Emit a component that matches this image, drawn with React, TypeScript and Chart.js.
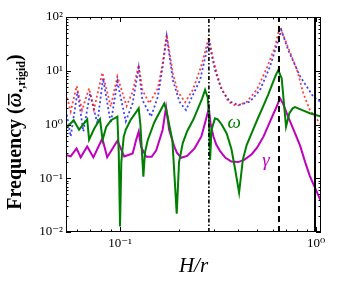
import React, { useEffect, useRef } from 'react';
import { Chart, registerables } from 'chart.js';
Chart.register(...registerables);

// ---- axis ranges & ticks ----
const X_MIN = 0.053;
const X_MAX = 1.06;
const Y_MIN = 0.01;
const Y_MAX = 100;
const xTickValues = [0.1, 1];
const xTickLabels = ['10⁻¹', '10⁰'];
const yTickValues = [0.01, 0.1, 1, 10, 100];
const yTickLabels = ['10⁻²', '10⁻¹', '10⁰', '10¹', '10²'];

// ---- series: omega (green, solid) ----
const omegaH = [0.053, 0.058, 0.0618, 0.068, 0.0695, 0.074, 0.079, 0.0815, 0.085, 0.09, 0.0969, 0.0985, 0.1, 0.1015, 0.1044, 0.107, 0.113, 0.1245, 0.127, 0.1315, 0.134, 0.1384, 0.1496, 0.168, 0.172, 0.185, 0.1946, 0.2, 0.209, 0.22, 0.237, 0.25, 0.262, 0.2716, 0.28, 0.284, 0.288, 0.293, 0.305, 0.315, 0.33, 0.35, 0.37, 0.385, 0.405, 0.423, 0.443, 0.47, 0.5, 0.538, 0.57, 0.6, 0.625, 0.642, 0.668, 0.703, 0.731, 0.76, 0.781, 0.85, 0.93, 1.06];
const omegaF = [0.85, 1.2, 0.8, 1.25, 0.52, 0.85, 1.25, 0.52, 0.9, 1.2, 1.4, 0.3, 0.0126, 0.2, 0.59, 0.8, 1.2, 2.0, 1.0, 0.107, 0.3, 0.51, 1.1, 2.45, 1.9, 0.5, 0.022, 0.2, 0.45, 0.75, 1.25, 2.0, 3.0, 4.4, 3.2, 1.5, 0.22, 0.8, 1.3, 1.25, 1.0, 0.68, 0.35, 0.16, 0.054, 0.22, 0.42, 0.7, 1.2, 2.2, 3.6, 5.8, 8.5, 10.3, 7.2, 0.91, 1.62, 2.0, 2.1, 1.85, 1.62, 1.4];

// ---- series: gamma (magenta, solid) ----
const gammaH = [0.053, 0.056, 0.06, 0.063, 0.068, 0.0731, 0.0812, 0.086, 0.097, 0.105, 0.116, 0.1207, 0.1245, 0.128, 0.136, 0.145, 0.153, 0.165, 0.1717, 0.178, 0.189, 0.195, 0.205, 0.22, 0.24, 0.26, 0.272, 0.284, 0.29, 0.3, 0.31, 0.324, 0.345, 0.37, 0.4, 0.43, 0.47, 0.5, 0.54, 0.58, 0.62, 0.655, 0.68, 0.72, 0.78, 0.83, 0.88, 0.93, 1.0, 1.06];
const gammaF = [0.27, 0.255, 0.36, 0.245, 0.39, 0.245, 0.55, 0.245, 0.5, 0.255, 0.29, 0.51, 0.74, 0.386, 0.25, 0.25, 0.33, 0.8, 2.1, 0.8, 0.39, 0.3, 0.24, 0.26, 0.36, 0.6, 1.1, 2.0, 1.0, 0.59, 0.42, 0.32, 0.24, 0.205, 0.2, 0.22, 0.28, 0.37, 0.6, 1.1, 1.9, 3.07, 2.4, 1.4, 0.7, 0.4, 0.2, 0.11, 0.06, 0.037];

// ---- series: red dotted ----
const redH = [0.053, 0.056, 0.0601, 0.064, 0.0695, 0.0736, 0.0812, 0.0897, 0.0969, 0.108, 0.116, 0.1245, 0.13, 0.141, 0.156, 0.165, 0.173, 0.186, 0.197, 0.215, 0.235, 0.259, 0.284, 0.299, 0.324, 0.357, 0.394, 0.443, 0.498, 0.56, 0.618, 0.652, 0.708, 0.8, 0.861, 0.93, 1.06];
const redF = [3.8, 1.75, 5.2, 1.86, 4.7, 1.9, 9.2, 2.15, 7.8, 2.2, 4.1, 12.8, 4.4, 2.48, 4.7, 13.8, 46, 9, 4.1, 2.6, 4.4, 11.9, 42, 15.8, 5.4, 2.65, 2.2, 2.65, 4.4, 11.1, 28, 66, 32, 10.3, 3.8, 1.86, 1.0];

// ---- series: blue dotted ----
const blueH = [0.053, 0.056, 0.0607, 0.065, 0.0703, 0.0766, 0.0819, 0.0897, 0.0969, 0.107, 0.116, 0.1245, 0.13, 0.144, 0.156, 0.165, 0.173, 0.186, 0.201, 0.217, 0.235, 0.256, 0.284, 0.305, 0.33, 0.364, 0.402, 0.46, 0.518, 0.582, 0.642, 0.665, 0.722, 0.83, 0.968, 1.06];
const blueF = [1.84, 0.6, 4.1, 0.74, 3.8, 1.05, 7.2, 1.05, 6.3, 1.15, 2.5, 11.5, 2.86, 1.4, 3.3, 11.9, 44, 6.7, 2.65, 1.86, 3.5, 6.7, 35, 10.3, 4.4, 2.65, 2.3, 2.65, 4.4, 11.9, 37, 57, 24, 7.8, 3.3, 2.6];

// ---- vertical reference lines ----
const vlineH = [0.284, 0.647, 0.988];

// ---- curve labels ----
const curveLabels = [
  { text: 'ω', x: 0.382, y: 1.07, color: '#008000' },
  { text: 'γ', x: 0.556, y: 0.21, color: '#bf00bf' },
];

const SERIF = '"Liberation Serif", "DejaVu Serif", serif';

function pts(h: number[], f: number[]) {
  return h.map((x, i) => ({ x, y: f[i] }));
}

function logTicks(min: number, max: number) {
  const out: { v: number; major: boolean }[] = [];
  for (let e = -3; e <= 3; e++) {
    for (let m = 1; m <= 9; m++) {
      const v = m * Math.pow(10, e);
      if (v >= min * 0.9999 && v <= max * 1.0001) out.push({ v, major: m === 1 });
    }
  }
  return out;
}

export default function App() {
  const ref = useRef<HTMLCanvasElement>(null);

  useEffect(() => {
    const canvas = ref.current!;

    const decor = {
      id: 'decor',
      afterDatasetsDraw(chart: any) {
        const { ctx, scales } = chart;
        const x = scales.x, y = scales.y;
        ctx.save();
        ctx.font = `italic 19px ${SERIF}`;
        ctx.textAlign = 'center';
        ctx.textBaseline = 'middle';
        for (const l of curveLabels) {
          ctx.fillStyle = l.color;
          ctx.fillText(l.text, x.getPixelForValue(l.x), y.getPixelForValue(l.y));
        }
        ctx.restore();
      },
      afterDraw(chart: any) {
        const { ctx, chartArea: a, scales } = chart;
        const x = scales.x, y = scales.y;
        ctx.save();
        ctx.strokeStyle = '#000';
        ctx.lineWidth = 1;
        ctx.strokeRect(a.left + 0.5, a.top + 0.5, a.right - a.left - 1, a.bottom - a.top - 1);
        ctx.beginPath();
        for (const t of logTicks(X_MIN, X_MAX)) {
          const px = Math.round(x.getPixelForValue(t.v)) + 0.5;
          const len = t.major ? 5 : 2.5;
          ctx.moveTo(px, a.bottom); ctx.lineTo(px, a.bottom - len);
          ctx.moveTo(px, a.top); ctx.lineTo(px, a.top + len);
        }
        for (const t of logTicks(Y_MIN, Y_MAX)) {
          const py = Math.round(y.getPixelForValue(t.v)) + 0.5;
          const len = t.major ? 5 : 2.5;
          ctx.moveTo(a.left, py); ctx.lineTo(a.left + len, py);
          ctx.moveTo(a.right, py); ctx.lineTo(a.right - len, py);
        }
        ctx.stroke();

        // y-axis title with subscript
        ctx.translate(21, 132);
        ctx.rotate(-Math.PI / 2);
        ctx.fillStyle = '#000';
        ctx.textBaseline = 'alphabetic';
        const parts = [
          { t: 'Frequency (', font: `bold 20px ${SERIF}`, dy: 0 },
          { t: 'ω', font: `bold italic 20px ${SERIF}`, dy: 0, bar: true },
          { t: '•,rigid', font: `bold 12px ${SERIF}`, dy: 4 },
          { t: ')', font: `bold 20px ${SERIF}`, dy: 0 },
        ];
        let total = 0;
        const widths: number[] = [];
        for (const p of parts) {
          ctx.font = p.font;
          const w = ctx.measureText(p.t).width;
          widths.push(w);
          total += w;
        }
        let cx = -total / 2;
        parts.forEach((p, i) => {
          ctx.font = p.font;
          ctx.textAlign = 'left';
          ctx.fillText(p.t, cx, p.dy);
          if ((p as any).bar) {
            ctx.fillRect(cx + 2, -13, widths[i] - 3, 1.5);
          }
          cx += widths[i];
        });
        ctx.restore();
      },
    };

    const vlineStyles = [
      { dash: [4, 2, 1.5, 2], width: 1.6 },
      { dash: [6, 4], width: 2 },
      { dash: [], width: 2 },
    ];

    const datasets: any[] = [
      ...vlineH.map((h, i) => ({
        data: [{ x: h, y: Y_MIN }, { x: h, y: Y_MAX }],
        borderColor: '#000',
        borderWidth: vlineStyles[i].width,
        borderDash: vlineStyles[i].dash,
        order: 0,
      })),
      { data: pts(omegaH, omegaF), borderColor: '#008000', borderWidth: 2, order: 1 },
      { data: pts(gammaH, gammaF), borderColor: '#bf00bf', borderWidth: 2, order: 2 },
      { data: pts(redH, redF), borderColor: 'rgba(255,0,0,0.75)', borderWidth: 1.8, borderDash: [2, 2.5], order: 3 },
      { data: pts(blueH, blueF), borderColor: 'rgba(0,0,255,0.75)', borderWidth: 1.8, borderDash: [2, 2.5], order: 4 },
    ];

    const chart = new Chart(canvas, {
      type: 'line',
      data: { datasets },
      options: {
        responsive: false,
        animation: false,
        events: [],
        layout: { padding: { top: 17, right: 21, left: 0, bottom: 0 } },
        elements: { point: { radius: 0 }, line: { tension: 0, fill: false } },
        plugins: { legend: { display: false }, tooltip: { enabled: false } },
        scales: {
          x: {
            type: 'logarithmic',
            min: X_MIN,
            max: X_MAX,
            afterBuildTicks: (s: any) => { s.ticks = xTickValues.map((v) => ({ value: v })); },
            afterFit: (s: any) => { s.height = 53; },
            grid: { display: false, drawTicks: false },
            border: { display: false },
            ticks: {
              autoSkip: false,
              maxRotation: 0,
              padding: 4,
              color: '#000',
              font: { family: SERIF, size: 13 },
              callback: (v: any) => {
                const i = xTickValues.findIndex((t) => Math.abs(t - v) / t < 1e-6);
                return i >= 0 ? xTickLabels[i] : '';
              },
            },
            title: {
              display: true,
              text: 'H/r',
              color: '#000',
              font: { family: SERIF, size: 21, style: 'italic' },
              padding: { top: 0, bottom: 6 },
            },
          },
          y: {
            type: 'logarithmic',
            min: Y_MIN,
            max: Y_MAX,
            afterBuildTicks: (s: any) => { s.ticks = yTickValues.map((v) => ({ value: v })); },
            afterFit: (s: any) => { s.width = 66; },
            grid: { display: false, drawTicks: false },
            border: { display: false },
            ticks: {
              autoSkip: false,
              padding: 3,
              color: '#000',
              font: { family: SERIF, size: 13 },
              callback: (v: any) => {
                const i = yTickValues.findIndex((t) => Math.abs(t - v) / t < 1e-6);
                return i >= 0 ? yTickLabels[i] : '';
              },
            },
          },
        },
      },
      plugins: [decor],
    } as any);

    return () => chart.destroy();
  }, []);

  return (
    <div style={{ position: 'fixed', left: 0, top: 0, width: 342, height: 285, background: '#fff' }}>
      <canvas ref={ref} width={342} height={285} style={{ display: 'block' }} />
    </div>
  );
}
